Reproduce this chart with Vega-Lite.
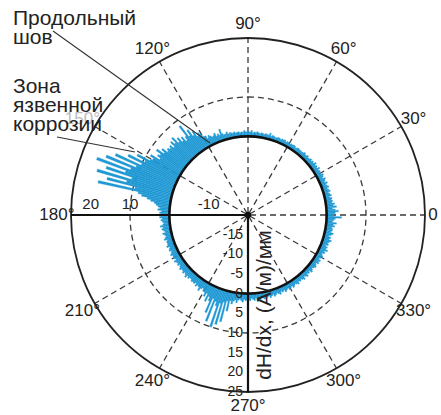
{
  "$schema": "https://vega.github.io/schema/vega-lite/v6.json",
  "width": 386,
  "height": 400,
  "autosize": "none",
  "padding": {"left": 55, "top": 15, "right": 0, "bottom": 0},
  "background": "white",
  "config": {"view": {"stroke": null}, "font": "Liberation Sans"},
  "datasets": {
    "trace": [
{"a":0,"v":1.8},{"a":1,"v":2.2},{"a":2,"v":3},{"a":3,"v":2.2},{"a":4,"v":1.5},{"a":5,"v":2.6},{"a":6,"v":1.8},{"a":7,"v":2.2},{"a":8,"v":1.5},{"a":9,"v":1.8},
{"a":10,"v":1.5},{"a":11,"v":1.8},{"a":12,"v":1.2},{"a":13,"v":1.8},{"a":14,"v":1.5},{"a":15,"v":1.2},{"a":16,"v":1.8},{"a":17,"v":1.5},{"a":18,"v":1.2},{"a":19,"v":1.8},
{"a":20,"v":1.5},{"a":21,"v":1.2},{"a":22,"v":1.8},{"a":23,"v":1.2},{"a":24,"v":1.5},{"a":25,"v":1.8},{"a":26,"v":1.2},{"a":27,"v":1.5},{"a":28,"v":1.8},{"a":29,"v":1.2},
{"a":30,"v":1.2},{"a":31,"v":1.5},{"a":32,"v":1.2},{"a":33,"v":1.8},{"a":34,"v":1.2},{"a":35,"v":1.5},{"a":36,"v":1.2},{"a":37,"v":1.8},{"a":38,"v":1.2},{"a":39,"v":1.5},
{"a":40,"v":1.2},{"a":41,"v":1.5},{"a":42,"v":1.2},{"a":43,"v":1.1},{"a":44,"v":1.5},{"a":45,"v":1.2},{"a":46,"v":1.2},{"a":47,"v":1.5},{"a":48,"v":1.2},{"a":49,"v":1.1},
{"a":50,"v":1.2},{"a":51,"v":1.1},{"a":52,"v":1.3},{"a":53,"v":1.2},{"a":54,"v":0.9},{"a":55,"v":1.2},{"a":56,"v":1.3},{"a":57,"v":1.1},{"a":58,"v":1.2},{"a":59,"v":0.9},
{"a":60,"v":1.1},{"a":61,"v":1.2},{"a":62,"v":0.9},{"a":63,"v":1.3},{"a":64,"v":1.1},{"a":65,"v":1.2},{"a":66,"v":0.9},{"a":67,"v":1.1},{"a":68,"v":1.2},{"a":69,"v":1},
{"a":70,"v":0.9},{"a":71,"v":1.1},{"a":72,"v":1.2},{"a":73,"v":0.9},{"a":74,"v":1.6},{"a":75,"v":1},{"a":76,"v":1.1},{"a":77,"v":1.2},{"a":78,"v":0.9},{"a":79,"v":1.1},
{"a":80,"v":1.2},{"a":81,"v":0.9},{"a":82,"v":1.1},{"a":83,"v":1.3},{"a":84,"v":1},{"a":85,"v":1.2},{"a":86,"v":0.9},{"a":87,"v":1.5},{"a":88,"v":1.1},{"a":89,"v":1.2},
{"a":90,"v":1.1},{"a":91,"v":1.2},{"a":92,"v":1.5},{"a":93,"v":1.1},{"a":94,"v":1.2},{"a":95,"v":1},{"a":96,"v":1.3},{"a":97,"v":1.2},{"a":98,"v":1.1},{"a":99,"v":1.4},
{"a":100,"v":1.2},{"a":101,"v":1.3},{"a":102,"v":1.5},{"a":103,"v":1.2},{"a":104,"v":1.8},{"a":105,"v":1.4},{"a":106,"v":1.3},{"a":107,"v":1.7},{"a":108,"v":3},{"a":109,"v":1.5},
{"a":110,"v":2},{"a":111,"v":1.6},{"a":112,"v":2.5},{"a":113,"v":2},{"a":114,"v":1.8},{"a":115,"v":2.2},{"a":116,"v":2.6},{"a":117,"v":2},{"a":118,"v":2.8},{"a":119,"v":3},
{"a":120,"v":4},{"a":121,"v":4.5},{"a":122,"v":3.8},{"a":123,"v":5.5},{"a":124,"v":4.5},{"a":125,"v":6.5},{"a":126,"v":5},{"a":127,"v":8.5},{"a":128,"v":5.5},{"a":129,"v":4.5},
{"a":130,"v":6},{"a":131,"v":5},{"a":132,"v":6.5},{"a":133,"v":5.5},{"a":134,"v":7.5},{"a":135,"v":6},{"a":136,"v":7},{"a":137,"v":5.5},{"a":138,"v":6.5},{"a":139,"v":6},
{"a":140,"v":6.5},{"a":141,"v":6},{"a":142,"v":7.5},{"a":143,"v":6.5},{"a":144,"v":8.5},{"a":145,"v":7},{"a":146,"v":7.5},{"a":147,"v":6.5},{"a":148,"v":9},{"a":149,"v":8},
{"a":150,"v":8.5},{"a":151,"v":12},{"a":152,"v":9.5},{"a":153,"v":14},{"a":154,"v":10},{"a":155,"v":17},{"a":156,"v":11},{"a":157,"v":19},{"a":158,"v":12},{"a":159,"v":21},
{"a":160,"v":13},{"a":161,"v":18},{"a":162,"v":11},{"a":163,"v":20},{"a":164,"v":12},{"a":165,"v":17},{"a":166,"v":9.5},{"a":167,"v":19},{"a":168,"v":8.5},{"a":169,"v":7.5},
{"a":170,"v":6},{"a":171,"v":5},{"a":172,"v":4},{"a":173,"v":3.5},{"a":174,"v":3},{"a":175,"v":2.5},{"a":176,"v":3},{"a":177,"v":2},{"a":178,"v":2.5},{"a":179,"v":2},
{"a":180,"v":2},{"a":181,"v":2.5},{"a":182,"v":1.8},{"a":183,"v":2.2},{"a":184,"v":1.8},{"a":185,"v":1.5},{"a":186,"v":1.8},{"a":187,"v":2.5},{"a":188,"v":1.8},{"a":189,"v":2.2},
{"a":190,"v":1.8},{"a":191,"v":1.5},{"a":192,"v":2.2},{"a":193,"v":1.8},{"a":194,"v":1.5},{"a":195,"v":1.8},{"a":196,"v":2.2},{"a":197,"v":1.5},{"a":198,"v":1.8},{"a":199,"v":1.7},
{"a":200,"v":1.8},{"a":201,"v":2.2},{"a":202,"v":1.5},{"a":203,"v":1.8},{"a":204,"v":2},{"a":205,"v":1.5},{"a":206,"v":1.8},{"a":207,"v":2.2},{"a":208,"v":1.7},{"a":209,"v":1.8},
{"a":210,"v":1.8},{"a":211,"v":1.5},{"a":212,"v":2.2},{"a":213,"v":1.8},{"a":214,"v":1.7},{"a":215,"v":2},{"a":216,"v":1.5},{"a":217,"v":1.8},{"a":218,"v":2.2},{"a":219,"v":1.8},
{"a":220,"v":1.8},{"a":221,"v":2.2},{"a":222,"v":1.7},{"a":223,"v":2},{"a":224,"v":2.5},{"a":225,"v":1.8},{"a":226,"v":2.2},{"a":227,"v":1.7},{"a":228,"v":1.8},{"a":229,"v":2.2},
{"a":230,"v":2},{"a":231,"v":2.2},{"a":232,"v":1.8},{"a":233,"v":2.5},{"a":234,"v":2},{"a":235,"v":2.2},{"a":236,"v":3},{"a":237,"v":2.2},{"a":238,"v":1.8},{"a":239,"v":2.5},
{"a":240,"v":2.5},{"a":241,"v":3.5},{"a":242,"v":2.5},{"a":243,"v":4.5},{"a":244,"v":3},{"a":245,"v":4},{"a":246,"v":7},{"a":247,"v":3},{"a":248,"v":9},{"a":249,"v":3.5},
{"a":250,"v":4.5},{"a":251,"v":10},{"a":252,"v":3.5},{"a":253,"v":9},{"a":254,"v":3},{"a":255,"v":8},{"a":256,"v":2.5},{"a":257,"v":5},{"a":258,"v":2.2},{"a":259,"v":3},
{"a":260,"v":2.2},{"a":261,"v":1.8},{"a":262,"v":2.5},{"a":263,"v":1.8},{"a":264,"v":1.5},{"a":265,"v":1.8},{"a":266,"v":2.2},{"a":267,"v":1.5},{"a":268,"v":1.8},{"a":269,"v":1.5},
{"a":270,"v":1.5},{"a":271,"v":1.8},{"a":272,"v":1.2},{"a":273,"v":1.5},{"a":274,"v":1.8},{"a":275,"v":1.2},{"a":276,"v":2.2},{"a":277,"v":1.5},{"a":278,"v":1.8},{"a":279,"v":1.2},
{"a":280,"v":1.5},{"a":281,"v":1.8},{"a":282,"v":1.2},{"a":283,"v":1.5},{"a":284,"v":1.2},{"a":285,"v":1.8},{"a":286,"v":1.5},{"a":287,"v":1.2},{"a":288,"v":1.8},{"a":289,"v":1.5},
{"a":290,"v":1.2},{"a":291,"v":1.5},{"a":292,"v":1.8},{"a":293,"v":1.2},{"a":294,"v":1.5},{"a":295,"v":1.2},{"a":296,"v":1.8},{"a":297,"v":1.5},{"a":298,"v":1.2},{"a":299,"v":1.7},
{"a":300,"v":1.5},{"a":301,"v":1.2},{"a":302,"v":1.8},{"a":303,"v":1.5},{"a":304,"v":1.2},{"a":305,"v":1.5},{"a":306,"v":1.8},{"a":307,"v":1.2},{"a":308,"v":1.5},{"a":309,"v":1.2},
{"a":310,"v":1.5},{"a":311,"v":1.8},{"a":312,"v":1.2},{"a":313,"v":1.5},{"a":314,"v":1.8},{"a":315,"v":1.2},{"a":316,"v":1.5},{"a":317,"v":1.2},{"a":318,"v":1.8},{"a":319,"v":1.5},
{"a":320,"v":1.2},{"a":321,"v":1.5},{"a":322,"v":1.8},{"a":323,"v":1.5},{"a":324,"v":1.2},{"a":325,"v":1.8},{"a":326,"v":1.5},{"a":327,"v":1.8},{"a":328,"v":1.2},{"a":329,"v":1.5},
{"a":330,"v":1.8},{"a":331,"v":1.5},{"a":332,"v":1.2},{"a":333,"v":1.8},{"a":334,"v":1.5},{"a":335,"v":2.2},{"a":336,"v":1.5},{"a":337,"v":1.8},{"a":338,"v":1.2},{"a":339,"v":1.8},
{"a":340,"v":1.5},{"a":341,"v":1.8},{"a":342,"v":2.2},{"a":343,"v":1.5},{"a":344,"v":1.8},{"a":345,"v":1.2},{"a":346,"v":1.8},{"a":347,"v":2.2},{"a":348,"v":1.5},{"a":349,"v":1.8},
{"a":350,"v":1.8},{"a":351,"v":1.5},{"a":352,"v":2.2},{"a":353,"v":1.8},{"a":354,"v":2.6},{"a":355,"v":1.5},{"a":356,"v":1.8},{"a":357,"v":2.2},{"a":358,"v":3.8},{"a":359,"v":1.8}
    ],
    "spokes": [{"a":0},{"a":30},{"a":60},{"a":90},{"a":120},{"a":150},{"a":210},{"a":240},{"a":300},{"a":330}],
    "axes": [{"a":180},{"a":270}],
    "angleLabels": [
      {"a":0,"t":"0"},{"a":30,"t":"30°"},{"a":60,"t":"60°"},{"a":90,"t":"90°"},
      {"a":120,"t":"120°"},{"a":150,"t":"150°"},{"a":180,"t":"180°"},{"a":210,"t":"210°"},
      {"a":240,"t":"240°"},{"a":270,"t":"270°"},{"a":300,"t":"300°"},{"a":330,"t":"330°"}
    ],
    "radialLabels": [
      {"v":-15,"t":"-15"},{"v":-10,"t":"-10"},{"v":-5,"t":"-5"},{"v":0,"t":"0"},{"v":5,"t":"5"},
      {"v":10,"t":"10"},{"v":15,"t":"15"},{"v":20,"t":"20"},{"v":25,"t":"25"}
    ],
    "hLabels": [{"v":20,"t":"20"},{"v":10,"t":"10"},{"v":-10,"t":"-10"}],
    "notes": [
      {"x":-59.75,"y":48.3,"t":["Продольный","шов"]},
      {"x":-59.75,"y":31.0,"t":["Зона","язвенной","коррозии"]}
    ],
    "leaders": [
      {"g":1,"x":-49.58,"y":46.78},{"g":1,"x":-9.66,"y":18.31},
      {"g":2,"x":-48.56,"y":19.83},{"g":2,"x":-28.73,"y":16.02}
    ],
    "title": [{"x":4.32,"y":-22.9,"t":"dH/dx, (А/м)/мм"}]
  },
  "layer": [
    {
      "data": {"values": [{"r": 10}]},
      "mark": {"type": "arc", "filled": false, "stroke": "#3a3a3a", "strokeWidth": 1.3, "strokeDash": [6, 4], "theta": 0, "theta2": 6.2832},
      "encoding": {
        "radius": {"field": "r", "type": "quantitative", "scale": {"type": "linear", "domain": [-20, 25], "range": [0, 177], "zero": false, "nice": false}},
        "radius2": {"datum": -20}
      }
    },
    {
      "data": {"name": "spokes"},
      "mark": {"type": "arc", "filled": false, "stroke": "#3a3a3a", "strokeWidth": 1.3, "strokeDash": [6, 4], "strokeDashOffset": 1},
      "encoding": {
        "theta": {"field": "a", "type": "quantitative", "stack": null, "scale": {"domain": [0, 360], "range": [1.5707963, -4.712389]}},
        "theta2": {"field": "a"},
        "radius": {"datum": 25, "type": "quantitative"},
        "radius2": {"datum": -20}
      }
    },
    {
      "data": {"name": "trace"},
      "transform": [{"bin": {"step": 1, "extent": [0, 360]}, "field": "a", "as": ["a0", "a1"]}],
      "mark": {"type": "arc", "color": "#1f98d4", "stroke": "#1f98d4", "strokeWidth": 0.3},
      "encoding": {
        "theta": {"field": "a0", "type": "quantitative", "stack": null},
        "theta2": {"field": "a1"},
        "radius": {"field": "v", "type": "quantitative"},
        "radius2": {"datum": 0}
      }
    },
    {
      "data": {"values": [{"r": 0}]},
      "mark": {"type": "arc", "filled": false, "stroke": "#111111", "strokeWidth": 2.6, "theta": 0, "theta2": 6.2832},
      "encoding": {"radius": {"field": "r", "type": "quantitative"}, "radius2": {"datum": -20}}
    },
    {
      "data": {"values": [{"r": 25}]},
      "mark": {"type": "arc", "filled": false, "stroke": "#222222", "strokeWidth": 1.8, "theta": 0, "theta2": 6.2832},
      "encoding": {"radius": {"field": "r", "type": "quantitative"}, "radius2": {"datum": -20}}
    },
    {
      "data": {"name": "axes"},
      "mark": {"type": "arc", "filled": false, "stroke": "#111111", "strokeWidth": 2.2},
      "encoding": {
        "theta": {"field": "a", "type": "quantitative", "stack": null},
        "theta2": {"field": "a"},
        "radius": {"datum": 25, "type": "quantitative"},
        "radius2": {"datum": -20}
      }
    },
    {
      "data": {"values": [{}]},
      "mark": {"type": "arc", "color": "#111111", "theta": 0, "theta2": 6.2832},
      "encoding": {"radius": {"datum": -19.2, "type": "quantitative"}, "radius2": {"datum": -20}}
    },
    {
      "data": {"name": "angleLabels"},
      "transform": [{"filter": "datum.a !== 0"}],
      "mark": {"type": "text", "fontSize": 17, "color": "#222222", "align": "center", "baseline": "middle"},
      "encoding": {
        "theta": {"field": "a", "type": "quantitative", "stack": null},
        "radius": {"datum": 28.6, "type": "quantitative"},
        "text": {"field": "t"},
        "opacity": {"condition": {"test": "datum.a === 150", "value": 0.3}, "value": 1}
      }
    },
    {
      "data": {"name": "angleLabels"},
      "transform": [{"filter": "datum.a === 0"}],
      "mark": {"type": "text", "fontSize": 17, "color": "#222222", "align": "center", "baseline": "middle"},
      "encoding": {
        "theta": {"field": "a", "type": "quantitative", "stack": null},
        "radius": {"datum": 27, "type": "quantitative"},
        "text": {"field": "t"}
      }
    },
    {
      "data": {"name": "radialLabels"},
      "mark": {"type": "text", "fontSize": 14, "color": "#222222", "align": "right", "baseline": "middle", "dx": -5},
      "encoding": {
        "theta": {"datum": 270, "type": "quantitative"},
        "radius": {"field": "v", "type": "quantitative"},
        "text": {"field": "t"}
      }
    },
    {
      "data": {"name": "hLabels"},
      "mark": {"type": "text", "fontSize": 15, "color": "#222222", "align": "center", "baseline": "alphabetic", "dy": -6},
      "encoding": {
        "theta": {"datum": 180, "type": "quantitative"},
        "radius": {"field": "v", "type": "quantitative"},
        "text": {"field": "t"}
      }
    },
    {
      "data": {"name": "leaders"},
      "mark": {"type": "line", "stroke": "#333333", "strokeWidth": 1.1},
      "encoding": {
        "x": {"field": "x", "type": "quantitative", "axis": null, "scale": {"domain": [-49.07, 49.07], "nice": false, "zero": false}},
        "y": {"field": "y", "type": "quantitative", "axis": null, "scale": {"domain": [-50.85, 50.85], "nice": false, "zero": false}},
        "detail": {"field": "g"}
      }
    },
    {
      "data": {"name": "notes"},
      "mark": {"type": "text", "fontSize": 21, "lineHeight": 19, "color": "#222222", "align": "left", "baseline": "alphabetic"},
      "encoding": {
        "x": {"field": "x", "type": "quantitative"},
        "y": {"field": "y", "type": "quantitative"},
        "text": {"field": "t"}
      }
    },
    {
      "data": {"name": "title"},
      "mark": {"type": "text", "fontSize": 21, "color": "#222222", "align": "center", "baseline": "middle", "angle": 270},
      "encoding": {
        "x": {"field": "x", "type": "quantitative"},
        "y": {"field": "y", "type": "quantitative"},
        "text": {"field": "t"}
      }
    }
  ]
}
